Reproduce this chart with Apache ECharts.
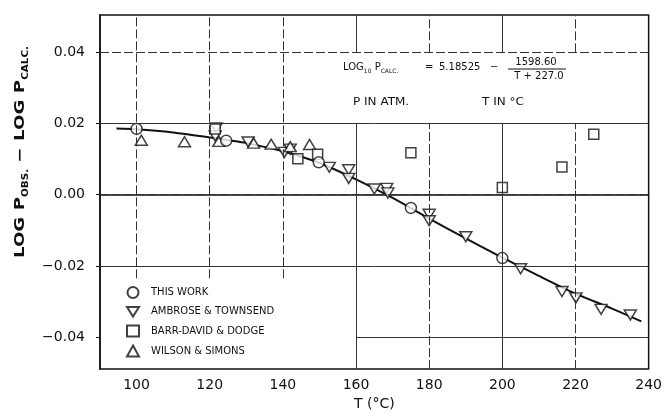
<!DOCTYPE html>
<html><head><meta charset="utf-8">
<script src="https://cdn.jsdelivr.net/npm/echarts@6/dist/echarts.min.js"></script>
<style>html,body{margin:0;padding:0;background:#fff}#c{width:665px;height:416px}</style>
</head><body><div id="c"></div>
<script>
// ---- data ----
const xTicks = [100, 120, 140, 160, 180, 200, 220, 240];
const yTicks = [-0.04, -0.02, 0.00, 0.02, 0.04];
const legendNames = ['THIS WORK', 'AMBROSE & TOWNSEND', 'BARR-DAVID & DODGE', 'WILSON & SIMONS'];
const thisWork = [[100, 0.0185], [124.5, 0.0152], [149.8, 0.0091], [175, -0.0037], [200, -0.0178]];
const ambrose = [[121.8, 0.0188], [121.5, 0.0165], [130.5, 0.0148], [140.4, 0.0119], [142, 0.0128],
  [152.7, 0.0077], [158, 0.0070], [158, 0.0046], [165, 0.0016], [168.4, 0.0018], [168.7, 0.0005],
  [180, -0.0055], [180, -0.0073], [190, -0.0118], [205, -0.0208], [216.3, -0.0272], [220.1, -0.0290],
  [227, -0.0322], [235, -0.0338]];
const barrDavid = [[121.5, 0.0185], [144.1, 0.0101], [149.5, 0.0114], [175, 0.0118], [200, 0.0020],
  [216.3, 0.0078], [225, 0.0170]];
const wilson = [[101.3, 0.0153], [113.1, 0.0149], [122.5, 0.0150], [132, 0.0145], [136.8, 0.0142],
  [142, 0.0135], [147.3, 0.0141]];
const fitT = [94.5, 100, 110, 120, 125, 130, 140, 150, 160, 170, 180, 190, 200, 210, 220, 230, 238];
const fitV = [0.0186, 0.0184, 0.0175, 0.0161, 0.0153, 0.0145, 0.0122, 0.0089, 0.0043, -0.0009,
  -0.0067, -0.0123, -0.0177, -0.0228, -0.0278, -0.0320, -0.0356];
// grid line segments in data units: [x1, y1, x2, y2, dashed]
const gridSegs = [
  [90, 0.04, 240, 0.04, 1], [90, 0.02, 240, 0.02, 0], [90, 0.0, 240, 0.0, 1],
  [90, -0.02, 240, -0.02, 0], [160, -0.04, 240, -0.04, 0],
  [100, -0.0235, 100, 0.0505, 1], [120, -0.0235, 120, 0.0505, 1], [140, -0.0235, 140, 0.0505, 1],
  [160, -0.049, 160, 0.02, 0], [180, -0.049, 180, 0.02, 1], [200, -0.049, 200, 0.02, 0], [220, -0.049, 220, 0.02, 1],
  [160, 0.04, 160, 0.0505, 0], [180, 0.04, 180, 0.0505, 1], [200, 0.04, 200, 0.0505, 0], [220, 0.04, 220, 0.0505, 1]
];

const FONT = 'DejaVu Sans';
const invTri = 'path://M0,0L2,0L1,1.6Z';
const mk = { color: '#fff', borderColor: '#111', borderWidth: 1.5 };

const chart = echarts.init(document.getElementById('c'), null, { renderer: 'canvas' });
chart.setOption({
  animation: false,
  backgroundColor: '#fff',
  grid: { left: 100, right: 16, top: 15, bottom: 45, show: true, borderColor: '#111', borderWidth: 1.5 },
  xAxis: {
    type: 'value', min: 90, max: 240,
    name: 'T (°C)', nameLocation: 'middle', nameGap: 26,
    nameTextStyle: { fontFamily: FONT, fontSize: 14, color: '#111' },
    axisLine: { show: true, lineStyle: { color: '#111', width: 1.5 } },
    axisTick: { show: true, inside: true, length: 4, customValues: xTicks, lineStyle: { color: '#111' } },
    axisLabel: { customValues: xTicks, margin: 9, fontFamily: FONT, fontSize: 14, color: '#111' },
    splitLine: { show: false }
  },
  yAxis: {
    type: 'value', min: -0.049, max: 0.0505,
    axisLine: { show: true, lineStyle: { color: '#111', width: 1.5 } },
    axisTick: { show: true, length: 4, customValues: yTicks, lineStyle: { color: '#111' } },
    axisLabel: { customValues: yTicks, margin: 15, fontFamily: FONT, fontSize: 14, color: '#111',
      formatter: v => v.toFixed(2).replace('-', '\u2212') },
    splitLine: { show: false }
  },
  legend: {
    data: legendNames, orient: 'vertical', left: 121, top: 281, itemGap: 7,
    itemWidth: 12, itemHeight: 11,
    textStyle: { fontFamily: FONT, fontSize: 10, color: '#111', padding: [0, 0, 0, 7] }
  },
  graphic: [
    { type: 'text', x: 20, y: 152, rotation: Math.PI / 2, scaleX: 1.3,
      style: { text: '{m|LOG P}{s|OBS.}{m| \u2212 LOG P}{s|CALC.}', align: 'center', verticalAlign: 'middle',
        rich: { m: { fontFamily: FONT, fontSize: 14, fontWeight: 'bold', lineHeight: 20, verticalAlign: 'middle', fill: '#111' },
                s: { fontFamily: FONT, fontSize: 8, fontWeight: 'bold', verticalAlign: 'bottom', fill: '#111' } } } },
    { type: 'text', x: 343, y: 67,
      style: { text: '{m|LOG}{s|10}{m| P}{s|CALC.}', align: 'left', verticalAlign: 'middle',
        rich: { m: { fontFamily: FONT, fontSize: 10, lineHeight: 14, verticalAlign: 'middle', fill: '#111' },
                s: { fontFamily: FONT, fontSize: 6, verticalAlign: 'bottom', fill: '#111' } } } },
    { type: 'text', x: 425, y: 67, style: { text: '=', font: '10px ' + FONT, fill: '#111', align: 'left', verticalAlign: 'middle' } },
    { type: 'text', x: 439, y: 67, style: { text: '5.18525', font: '10px ' + FONT, fill: '#111', align: 'left', verticalAlign: 'middle' } },
    { type: 'text', x: 490, y: 67, style: { text: '\u2212', font: '10px ' + FONT, fill: '#111', align: 'left', verticalAlign: 'middle' } },
    { type: 'text', x: 536, y: 62, style: { text: '1598.60', font: '10px ' + FONT, fill: '#111', align: 'center', verticalAlign: 'middle' } },
    { type: 'line', shape: { x1: 508, y1: 69, x2: 566, y2: 69 }, style: { stroke: '#111', lineWidth: 1 } },
    { type: 'text', x: 539, y: 76, style: { text: 'T + 227.0', font: '10px ' + FONT, fill: '#111', align: 'center', verticalAlign: 'middle' } },
    { type: 'text', x: 353, y: 102, scaleX: 1.2, style: { text: 'P IN ATM.', font: '10px ' + FONT, fill: '#111', align: 'left', verticalAlign: 'middle' } },
    { type: 'text', x: 482, y: 102, scaleX: 1.2, style: { text: 'T IN °C', font: '10px ' + FONT, fill: '#111', align: 'left', verticalAlign: 'middle' } }
  ],
  series: [
    { type: 'line', name: 'grid', data: [], silent: true, z: 1,
      markLine: { silent: true, symbol: ['none', 'none'], label: { show: false }, animation: false,
        data: gridSegs.map(s => [
          { coord: [s[0], s[1]], lineStyle: { color: '#333', width: 1, type: s[4] ? [9, 3] : 'solid' } },
          { coord: [s[2], s[3]] }
        ]) } },
    { type: 'line', name: 'fit', data: fitT.map((t, i) => [t, fitV[i]]), smooth: 0.3, showSymbol: false,
      symbol: 'none', lineStyle: { color: '#111', width: 2 }, z: 2, silent: true },
    { type: 'scatter', name: legendNames[1], data: ambrose, symbol: invTri, symbolSize: [12, 10], itemStyle: mk, z: 3 },
    { type: 'scatter', name: legendNames[3], data: wilson, symbol: 'triangle', symbolSize: [12, 10], itemStyle: mk, z: 3 },
    { type: 'scatter', name: legendNames[2], data: barrDavid, symbol: 'rect', symbolSize: 10, itemStyle: mk, z: 3 },
    { type: 'scatter', name: legendNames[0], data: thisWork, symbol: 'circle', symbolSize: 11, itemStyle: mk, z: 4 }
  ]
});
</script></body></html>
